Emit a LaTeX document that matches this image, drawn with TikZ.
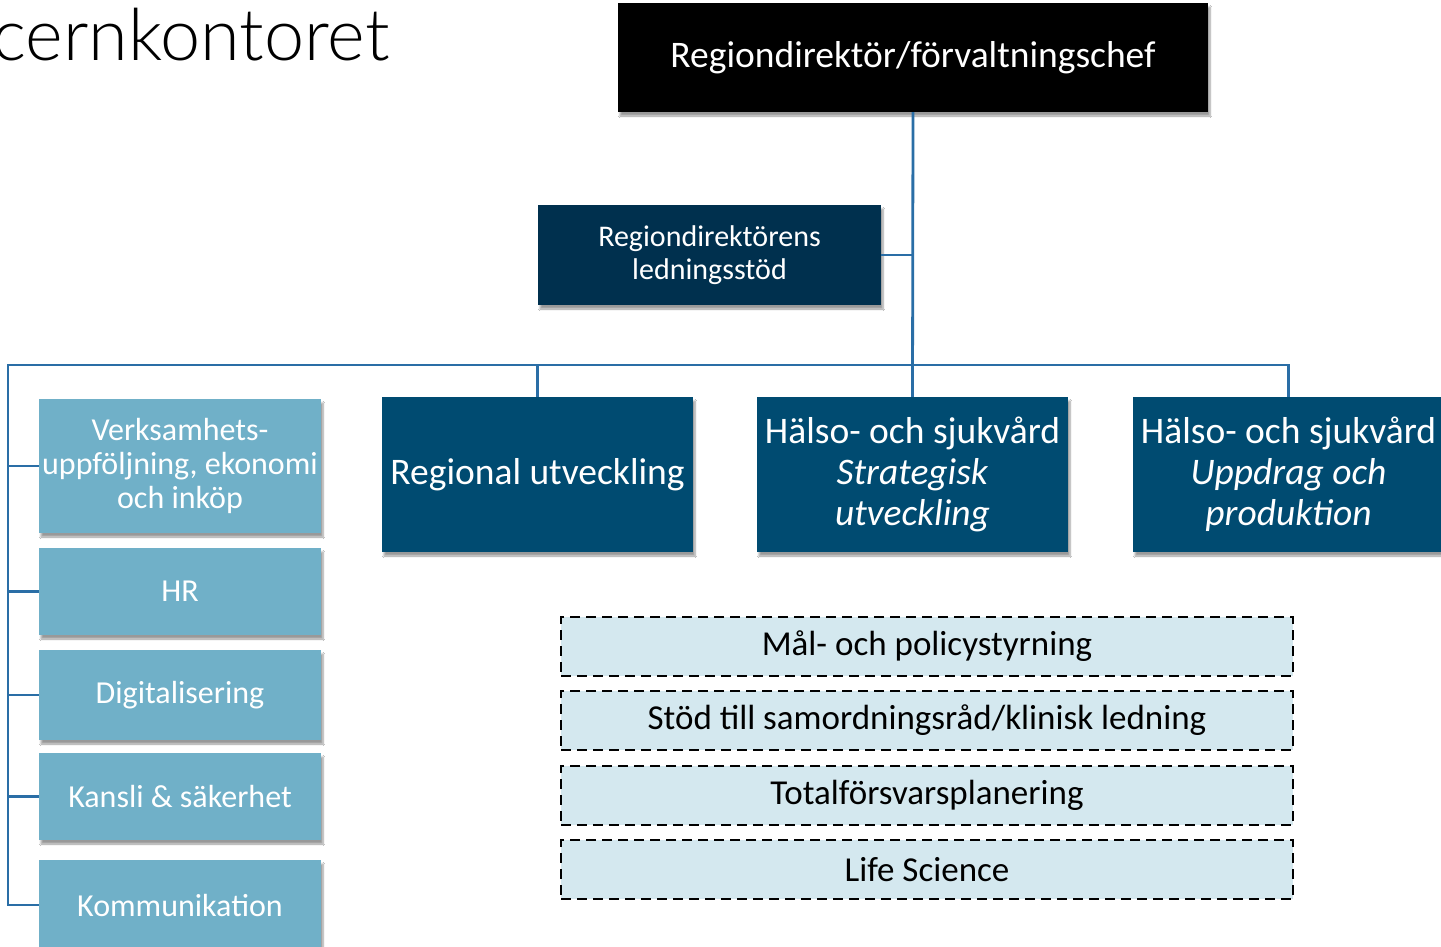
\documentclass[tikz,border=0pt]{standalone}
\usepackage{fontspec}
\setmainfont{Carlito}
\newfontfamily\titlefont[UprightFont={* Light}]{Lato}
\usetikzlibrary{shadows.blur,positioning}

\definecolor{stodnavy}{HTML}{00304E}
\definecolor{mainblue}{HTML}{004B71}
\definecolor{lightblue}{HTML}{70B0C8}
\definecolor{paleblue}{HTML}{D4E8EF}
\definecolor{linkblue}{HTML}{2A6EA6}

\tikzset{
  shad/.style={blur shadow={shadow xshift=2pt,shadow yshift=-4pt,shadow opacity=40,shadow blur steps=6}},
  mainbox/.style={shad,fill=mainblue,text=white,minimum width=311pt,minimum height=155pt,align=center,font=\fontsize{37.5}{41}\selectfont,inner sep=0pt},
  sidebox/.style={shad,fill=lightblue,text=white,minimum width=282pt,align=center,font=\fontsize{32}{34}\selectfont,inner sep=0pt},
  taskbox/.style={draw=black,line width=2.2pt,dash pattern=on 10pt off 6pt,fill=paleblue,minimum width=732pt,minimum height=59pt,font=\fontsize{35}{38}\selectfont,inner sep=0pt},
  conn/.style={draw=linkblue,line width=2.8pt}
}

\begin{document}
\begin{tikzpicture}[x=1pt,y=-1pt]
  \clip (0,0) rectangle (1441,946);
  \fill[white] (0,0) rectangle (1441,946);

  \node[anchor=base west,font=\titlefont\fontsize{72}{78}\selectfont,inner sep=0pt] (title) at (-8,60) {cernkontoret};

  \node[shad,fill=black,text=white,minimum width=590pt,minimum height=109pt,font=\fontsize{37.5}{40}\selectfont] (dir) at (913,57.5) {Regiondirektör/förvaltningschef};
  \node[shad,fill=stodnavy,text=white,minimum width=343pt,minimum height=100pt,align=center,font=\fontsize{30}{33}\selectfont,inner sep=0pt] (stod) at (709.5,255) {Regiondirektörens\\ledningsstöd};

  \node[mainbox] (ru) at (537.5,474.5) {Regional utveckling};
  \node[mainbox] (hs1) at (912.5,474.5) {Hälso- och sjukvård\\\textit{Strategisk}\\\textit{utveckling}};
  \node[mainbox] (hs2) at (1288.5,474.5) {Hälso- och sjukvård\\\textit{Uppdrag och}\\\textit{produktion}};

  \node[sidebox,minimum height=134pt] (vu) at (180,466) {Verksamhets-\\uppföljning, ekonomi\\och inköp};
  \node[sidebox,minimum height=87pt] (hr) at (180,591.5) {HR};
  \node[sidebox,minimum height=90pt] (dig) at (180,695) {Digitalisering};
  \node[sidebox,minimum height=87pt] (kan) at (180,796.5) {Kansli \& säkerhet};
  \node[sidebox,minimum height=90pt] (kom) at (180,905) {Kommunikation};

  \node[taskbox] (mal) at (927,646.5) {Mål- och policystyrning};
  \node[taskbox] (sam) at (927,720.5) {Stöd till samordningsråd/klinisk ledning};
  \node[taskbox] (tot) at (927,795.5) {Totalförsvarsplanering};
  \node[taskbox] (life) at (927,869.5) {Life Science};

  \coordinate (bus) at (912.5,365);
  \coordinate (lefttop) at (8,365);

  \draw[conn] (dir.south) -- (hs1.north);
  \draw[conn] (stod.east) -- (stod.east -| dir.south);
  \draw[conn] (ru.north) |- (hs2.north |- bus) -- (hs2.north);
  \draw[conn] (ru.north |- lefttop) -- (lefttop) |- (kom.west);
  \foreach \n in {vu,hr,dig,kan}
    \draw[conn] (lefttop |- \n.west) -- (\n.west);

\end{tikzpicture}
\end{document}
